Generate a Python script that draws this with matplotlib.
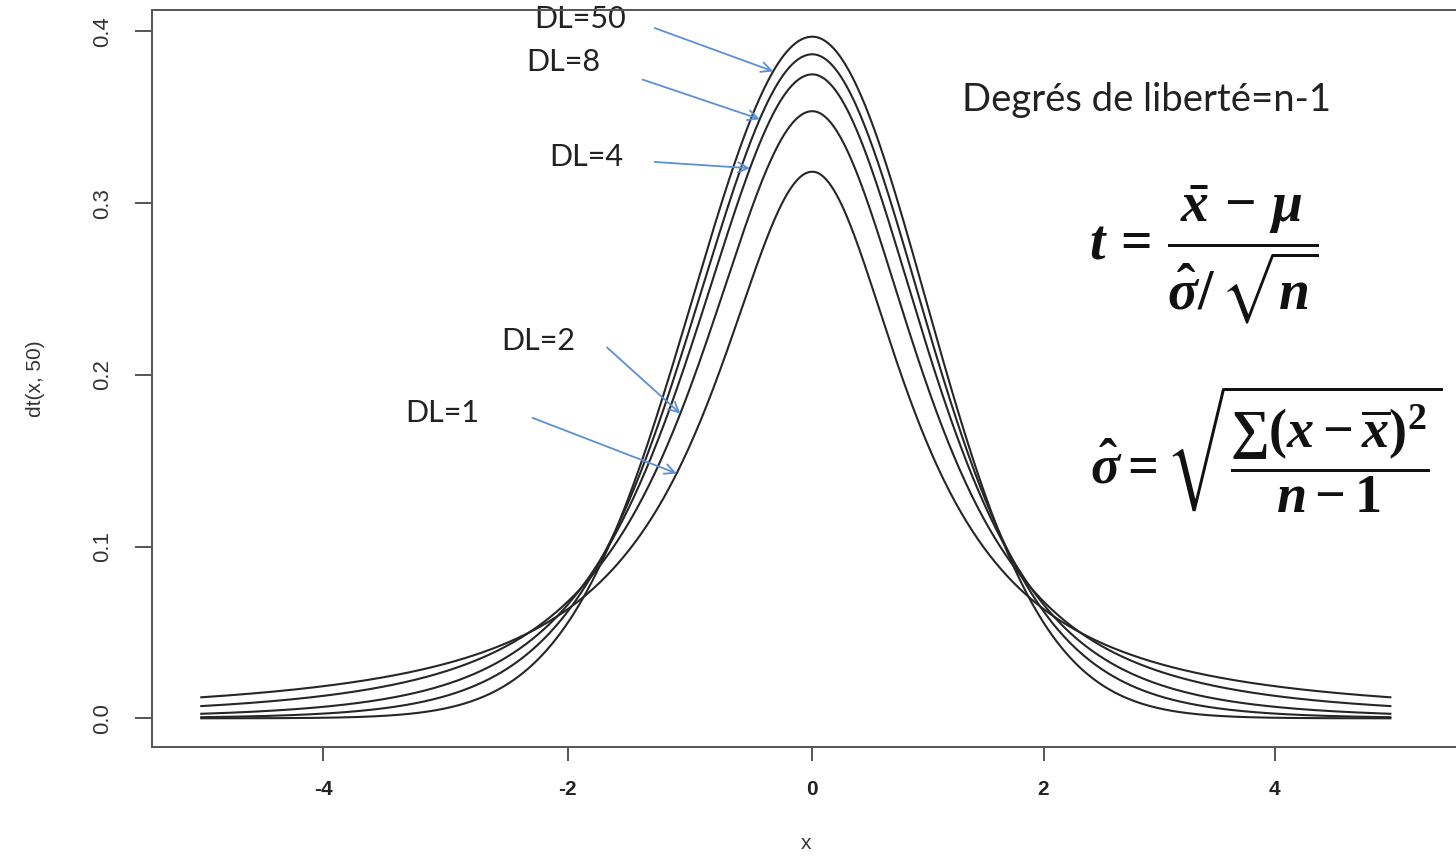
import math
import numpy as np
import matplotlib
matplotlib.use("Agg")
import matplotlib.pyplot as plt

# Degrees of freedom of the plotted Student densities and their labels
dfs = [1, 2, 4, 8, 50]
df_labels = ["DL=1", "DL=2", "DL=4", "DL=8", "DL=50"]
x_range = (-5, 5)

# Label anchor (data coords), arrow tail (data coords) and arrow tip x on the curve
label_pos = [(-3.03, 0.178), (-2.24, 0.220), (-1.85, 0.327), (-2.04, 0.382), (-1.90, 0.407)]
arrow_tail = [(-2.29, 0.175), (-1.68, 0.216), (-1.29, 0.324), (-1.39, 0.372), (-1.29, 0.402)]
arrow_tip_x = [-1.11, -1.08, -0.51, -0.43, -0.32]

x_ticks = [-4, -2, 0, 2, 4]
y_ticks = [0.0, 0.1, 0.2, 0.3, 0.4]
y_tick_labels = ["0.0", "0.1", "0.2", "0.3", "0.4"]

plt.rcParams["axes.unicode_minus"] = False
plt.rcParams["mathtext.fontset"] = "custom"
plt.rcParams["mathtext.rm"] = "Liberation Serif:bold"
plt.rcParams["mathtext.it"] = "Liberation Serif:italic:bold"
plt.rcParams["mathtext.bf"] = "Liberation Serif:bold"
plt.rcParams["mathtext.fallback"] = "stix"


def t_pdf(x, nu):
    c = math.exp(math.lgamma((nu + 1) / 2) - math.lgamma(nu / 2)) / math.sqrt(nu * math.pi)
    return c * (1 + np.asarray(x) ** 2 / nu) ** (-(nu + 1) / 2)


# slightly wider left half than right half
K = 1.057


def fwd(v):
    v = np.asarray(v, dtype=float)
    return np.where(v < 0, v * K, v)


def inv(u):
    u = np.asarray(u, dtype=float)
    return np.where(u < 0, u / K, u)


fig = plt.figure(figsize=(14.56, 8.57), dpi=100)
ax = fig.add_axes([0.10467, 0.12835, 0.8979, 0.86])
ax.set_xscale("function", functions=(fwd, inv))

xs = np.linspace(x_range[0], x_range[1], 801)
for nu in dfs:
    ax.plot(xs, t_pdf(xs, nu), color="#262626", lw=1.5)

ax.set_xlim(-5.4, 5.6)
ax.set_ylim(-0.0167, 0.4125)

spine_col = "#555555"
for s in ax.spines.values():
    s.set_color(spine_col)
    s.set_linewidth(1.4)

ax.set_xticks(x_ticks)
ax.set_xticklabels([str(v) for v in x_ticks])
ax.set_yticks(y_ticks)
ax.set_yticklabels(y_tick_labels, rotation=90, va="center")
ax.xaxis.set_minor_locator(matplotlib.ticker.NullLocator())
ax.tick_params(axis="x", length=10, width=1.4, color=spine_col, pad=14,
               labelsize=15, labelcolor="#222222")
ax.tick_params(axis="y", length=12, width=1.4, color=spine_col, pad=16,
               labelsize=16, labelcolor="#333333")
for lab in ax.get_xticklabels() + ax.get_yticklabels():
    lab.set_fontfamily("Liberation Sans")
for lab in ax.get_xticklabels():
    lab.set_fontweight("bold")

ax.set_xlabel("x", fontsize=15, family="Liberation Sans", color="#333333", labelpad=25)
ax.set_ylabel("dt(x, 50)", fontsize=15, family="Liberation Sans", color="#333333", labelpad=34)

arrow_col = "#5b8fd6"
for nu, lab, (lx, ly), (tx, ty), tipx in zip(dfs, df_labels, label_pos, arrow_tail, arrow_tip_x):
    ax.text(lx, ly, lab, ha="center", va="center", fontsize=22, family="Lato",
            color="#222222", zorder=1)
    ax.annotate("", xy=(tipx, float(t_pdf(tipx, nu))), xytext=(tx, ty),
                arrowprops=dict(arrowstyle="->", color=arrow_col, lw=1.3,
                                shrinkA=0, shrinkB=0, mutation_scale=18))

ax.text(2.89, 0.360, "Degrés de liberté=n-1", ha="center", va="center",
        fontsize=27.5, family="Lato", color="#222222")

ax.text(3.39, 0.270, r"$t\,=\,\dfrac{\bar{x}\,-\,\mu}{\hat{\sigma}/\,\sqrt{n}}$",
        ha="center", va="center", fontsize=40, color="#111111")
ax.text(2.40, 0.157, r"$\hat{\sigma}=\sqrt{\dfrac{\sum(x-\overline{x})^2}{n-1}}$",
        ha="left", va="center", fontsize=39, color="#111111", clip_on=False)

fig.savefig("out.png", dpi=100, facecolor="white")
